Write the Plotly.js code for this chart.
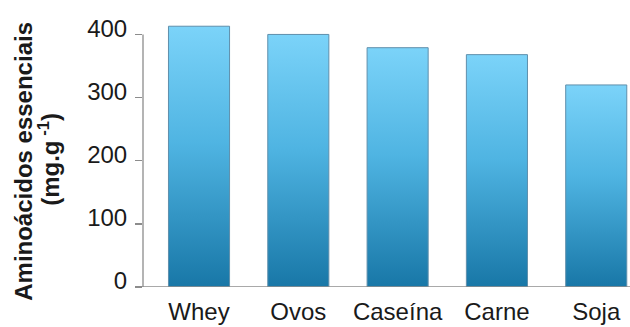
<!DOCTYPE html>
<html>
<head>
<meta charset="utf-8">
<script src="https://cdn.plot.ly/plotly-3.0.1.min.js"></script>
<style>html,body{margin:0;padding:0;background:#fff;}#chart{width:630px;height:327px;}</style>
</head>
<body>
<div id="chart"></div>
<script>
const categories = ["Whey", "Ovos", "Caseína", "Carne", "Soja"];
const values = [413, 400, 379, 368, 320];
const yTicks = [0, 100, 200, 300, 400];
const yTitleLine1 = "Aminoácidos essenciais";
const yTitleLine2 = "(mg.g<sup> -1</sup>)";

const trace = {
  type: "bar",
  x: categories.map((c, i) => i),
  y: values,
  width: 0.615,
  marker: { color: "#3ea7d8", line: { color: "#5f8fac", width: 1 } },
  hoverinfo: "none"
};

const FONT = "Liberation Sans, Arial, sans-serif";
const titleFont = { size: 24, color: "#1a1a1a", family: FONT, weight: "bold" };

const layout = {
  width: 630, height: 327,
  margin: { l: 143, r: 0, t: 10, b: 39.5, pad: 0 },
  paper_bgcolor: "#fff", plot_bgcolor: "#fff",
  showlegend: false,
  font: { family: FONT, color: "#1a1a1a" },
  xaxis: {
    range: [-0.564, 4.34],
    tickvals: [0, 1, 2, 3, 4],
    ticktext: categories,
    ticks: "",
    showline: false, showgrid: false, zeroline: false,
    tickfont: { size: 24, color: "#1a1a1a" },
    ticklabelstandoff: 8
  },
  yaxis: {
    range: [0, 438.7],
    tickvals: yTicks,
    ticks: "outside", ticklen: 7, tickcolor: "#8c8c8c", tickwidth: 1.3,
    showline: false, showgrid: false, zeroline: false,
    tickfont: { size: 24, color: "#1a1a1a" },
    ticklabelstandoff: 3,
    ticklabelshift: -6
  },
  shapes: [
    { type: "line", xref: "paper", yref: "y", x0: 0, x1: 0, y0: 0, y1: 400, line: { color: "#8c8c8c", width: 1.3 } },
    { type: "line", xref: "paper", yref: "y", x0: -7 / 487, x1: 1, y0: 0, y1: 0, line: { color: "#8c8c8c", width: 1.3 } }
  ],
  annotations: [
    { text: yTitleLine1, xref: "paper", yref: "paper", x: -(143 - 24) / 487, y: 0.452, xanchor: "center", yanchor: "middle",
      textangle: -90, showarrow: false, font: titleFont },
    { text: yTitleLine2, xref: "paper", yref: "paper", x: -(143 - 49) / 487, y: 0.459, xanchor: "center", yanchor: "middle",
      textangle: -90, showarrow: false, font: titleFont }
  ]
};

Plotly.newPlot("chart", [trace], layout, { staticPlot: true, displayModeBar: false }).then(function (gd) {
  const svg = gd.querySelector("svg.main-svg");
  const ns = "http://www.w3.org/2000/svg";
  let defs = svg.querySelector("defs");
  if (!defs) { defs = document.createElementNS(ns, "defs"); svg.insertBefore(defs, svg.firstChild); }
  const grad = document.createElementNS(ns, "linearGradient");
  grad.setAttribute("id", "barGrad");
  grad.setAttribute("x1", "0"); grad.setAttribute("y1", "0");
  grad.setAttribute("x2", "0"); grad.setAttribute("y2", "1");
  [["0", "#7bd3f9"], ["0.45", "#4fb4e2"], ["1", "#1877a7"]].forEach(function (s) {
    const st = document.createElementNS(ns, "stop");
    st.setAttribute("offset", s[0]); st.setAttribute("stop-color", s[1]);
    grad.appendChild(st);
  });
  defs.appendChild(grad);
  gd.querySelectorAll(".barlayer .point path").forEach(function (p) {
    p.style.fill = "url(#barGrad)";
  });
});
</script>
</body>
</html>
